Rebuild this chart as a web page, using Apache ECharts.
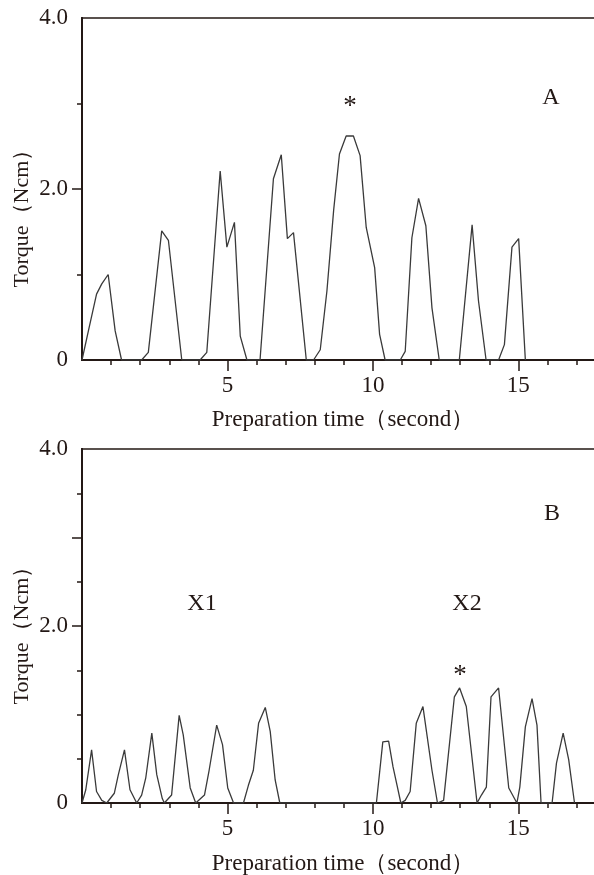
<!DOCTYPE html>
<html>
<head>
<meta charset="utf-8">
<title>Torque vs preparation time</title>
<script src="https://cdn.jsdelivr.net/npm/echarts@6/dist/echarts.min.js"></script>
<style>
  html, body { margin: 0; padding: 0; background: #fff; }
  #chart { width: 594px; height: 875px; }
</style>
</head>
<body>
<div id="chart"></div>
<script>
// A: torque trace
const timeA = [0, 0.22, 0.5, 0.68, 0.9, 1.14, 1.36, 2.05, 2.28, 2.74, 2.97, 3.43,
  4.06, 4.29, 4.75, 4.98, 5.24, 5.44, 5.67, 6.12, 6.58, 6.85, 7.06, 7.27, 7.71,
  7.96, 8.19, 8.42, 8.65, 8.85, 9.08, 9.33, 9.56, 9.77, 10.06, 10.23, 10.42,
  10.94, 11.11, 11.34, 11.57, 11.82, 12.03, 12.28, 12.97, 13.41, 13.63, 13.89,
  14.32, 14.52, 14.78, 15.01, 15.24]
const torqueA = [0, 0.34, 0.77, 0.89, 1.0, 0.34, 0, 0, 0.09, 1.51, 1.40, 0,
  0, 0.09, 2.21, 1.32, 1.61, 0.28, 0, 0, 2.12, 2.40, 1.42, 1.49, 0,
  0, 0.12, 0.81, 1.75, 2.41, 2.62, 2.62, 2.39, 1.55, 1.08, 0.30, 0,
  0, 0.10, 1.43, 1.89, 1.57, 0.61, 0, 0, 1.58, 0.69, 0,
  0, 0.18, 1.32, 1.42, 0]

// B: torque trace (X1 and X2 groups)
const timeB = [0, 0.13, 0.33, 0.5, 0.68, 0.85, 1.11, 1.25, 1.46, 1.65, 1.88,
  2.05, 2.19, 2.4, 2.57, 2.76, 2.83, 3.08, 3.34, 3.48, 3.72, 3.91,
  4.21, 4.37, 4.63, 4.83, 5.01, 5.21, 5.55, 5.72, 5.89, 6.07, 6.3, 6.47, 6.64, 6.8,
  10.12, 10.34, 10.54, 10.69, 10.83, 10.96, 11.11, 11.28, 11.49, 11.72, 12.03, 12.22,
  12.43, 12.8, 12.98, 13.21, 13.58, 13.73, 13.9, 14.06, 14.32, 14.67, 14.95,
  15.05, 15.24, 15.47, 15.64, 15.78, 16.16, 16.31, 16.54, 16.73, 16.93]
const torqueB = [0, 0.15, 0.60, 0.13, 0.03, 0, 0.11, 0.32, 0.60, 0.15, 0,
  0.09, 0.28, 0.79, 0.32, 0.05, 0, 0.09, 0.99, 0.77, 0.17, 0,
  0.09, 0.37, 0.88, 0.66, 0.17, 0, 0, 0.2, 0.37, 0.90, 1.08, 0.81, 0.26, 0,
  0, 0.69, 0.70, 0.41, 0.2, 0, 0.03, 0.13, 0.9, 1.09, 0.37, 0,
  0.03, 1.2, 1.30, 1.09, 0, 0.09, 0.18, 1.2, 1.30, 0.17, 0,
  0.18, 0.86, 1.18, 0.88, 0, 0, 0.45, 0.79, 0.49, 0]

// ticks and labels
const xMinorTicks = [1, 2, 3, 4, 6, 7, 8, 9, 11, 12, 13, 14, 16, 17]
const xMajorTicks = [5, 10, 15]
const yLabelValues = [0, 2, 4]
const yMinorTicksA = [1, 3]
const yMajorTicksA = [2]
const yMinorTicksB = [0.5, 1, 1.5, 2.5, 3.5]
const yMajorTicksB = [2, 3]

const xTitle = 'Preparation time（second）'
const yTitle = 'Torque（Ncm）'

const ink = '#231815'
const serif = '"Liberation Serif", "Times New Roman", serif'
const X_MAX = 17.6

function pairs(xs, ys) {
  return xs.map((x, i) => [x, ys[i]])
}

function xAxes(grid) {
  let base = {
    gridIndex: grid, type: 'value', min: 0, max: X_MAX,
    splitLine: {show: false},
    axisLine: {show: true, onZero: false, lineStyle: {color: ink, width: 2}}
  }
  return [
    // short ticks every second
    Object.assign({}, base, {
      position: 'bottom',
      axisTick: {show: true, length: 5, customValues: xMinorTicks, lineStyle: {color: ink, width: 1.5}},
      axisLabel: {show: false}
    }),
    // long ticks + labels at 5, 10, 15
    Object.assign({}, base, {
      position: 'bottom',
      axisTick: {show: true, length: 11, customValues: xMajorTicks, lineStyle: {color: ink, width: 1.5}},
      axisLabel: {
        show: true, customValues: xMajorTicks, margin: 14,
        color: ink, fontFamily: serif, fontSize: 23
      }
    }),
    // top frame line
    Object.assign({}, base, {
      position: 'top',
      axisTick: {show: false},
      axisLabel: {show: false},
      axisLine: {show: true, onZero: false, lineStyle: {color: ink, width: 1.6}}
    })
  ]
}

function yAxes(grid, minor, major) {
  let base = {
    gridIndex: grid, type: 'value', min: 0, max: 4, position: 'left',
    splitLine: {show: false},
    axisLine: {show: true, onZero: false, lineStyle: {color: ink, width: 2}}
  }
  return [
    Object.assign({}, base, {
      axisTick: {show: true, length: 5, customValues: minor, lineStyle: {color: ink, width: 1.5}},
      axisLabel: {show: false}
    }),
    Object.assign({}, base, {
      axisTick: {show: true, length: 10, customValues: major, lineStyle: {color: ink, width: 1.5}},
      axisLabel: {
        show: true, customValues: yLabelValues, margin: 14,
        color: ink, fontFamily: serif, fontSize: 23,
        formatter: v => (v === 0 ? '0' : v.toFixed(1))
      }
    })
  ]
}

function text(x, y, str, size, rot) {
  return {
    type: 'text', x: x, y: y, rotation: rot || 0, silent: true,
    style: {
      text: str, fill: ink, font: size + 'px ' + serif,
      align: 'center', verticalAlign: 'middle',
      textAlign: 'center', textVerticalAlign: 'middle'
    }
  }
}

const chart = echarts.init(document.getElementById('chart'), null, {renderer: 'canvas'})

const option = {
  animation: false,
  backgroundColor: '#fff',
  grid: [
    {left: 82, top: 18, width: 512, height: 342},
    {left: 82, top: 449, width: 512, height: 354}
  ],
  xAxis: [...xAxes(0), ...xAxes(1)],
  yAxis: [...yAxes(0, yMinorTicksA, yMajorTicksA), ...yAxes(1, yMinorTicksB, yMajorTicksB)],
  series: [
    {
      name: 'A', type: 'line', xAxisIndex: 1, yAxisIndex: 1,
      data: pairs(timeA, torqueA), showSymbol: false,
      lineStyle: {color: '#3a3a3a', width: 1.3}
    },
    {
      name: 'B', type: 'line', xAxisIndex: 4, yAxisIndex: 3,
      data: pairs(timeB, torqueB), showSymbol: false,
      lineStyle: {color: '#3a3a3a', width: 1.3}
    }
  ],
  graphic: [
    text(22, 213, yTitle, 22, Math.PI / 2),
    text(22, 630, yTitle, 22, Math.PI / 2),
    text(343, 420, xTitle, 23),
    text(343, 864, xTitle, 23),
    text(551, 98, 'A', 24),
    text(552, 514, 'B', 24),
    text(350, 107, '*', 27),
    text(460, 676, '*', 27),
    text(202, 604, 'X1', 24),
    text(467, 604, 'X2', 24)
  ]
}

chart.setOption(option)
</script>
</body>
</html>
